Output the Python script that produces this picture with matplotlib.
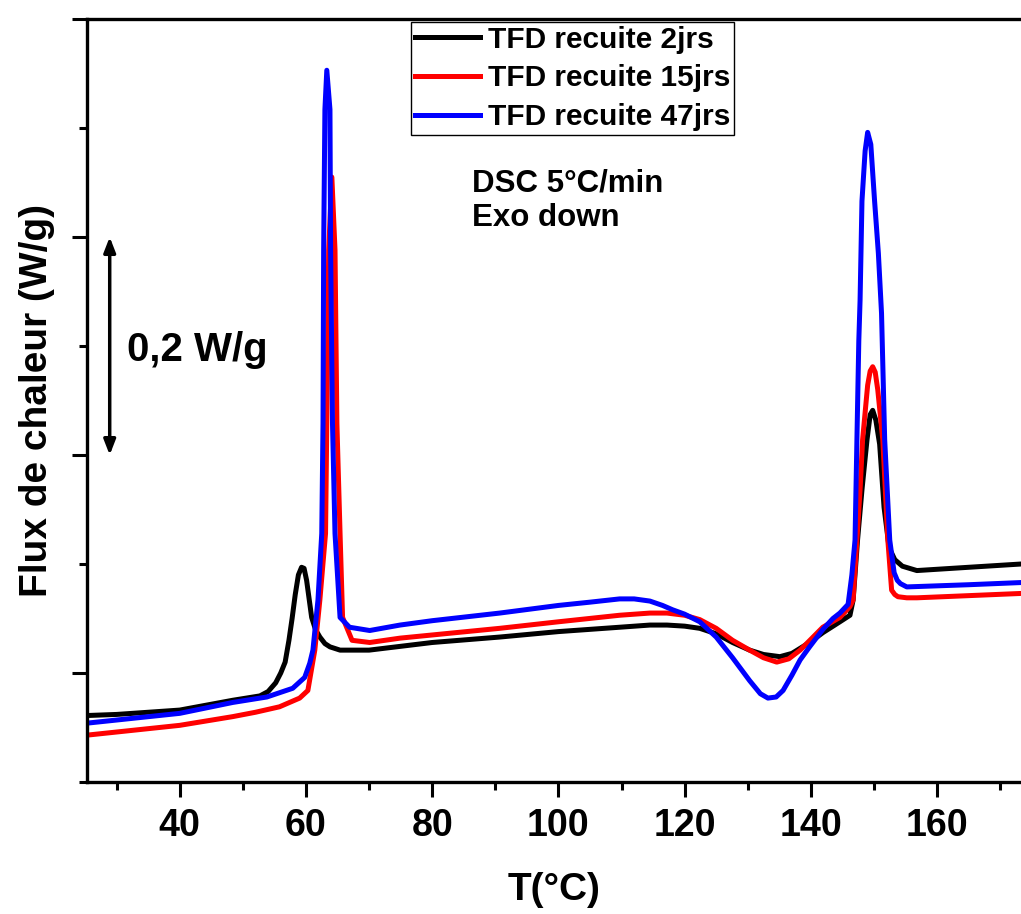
import matplotlib
matplotlib.use("Agg")
import matplotlib.pyplot as plt
from matplotlib.ticker import MultipleLocator, NullFormatter

plt.rcParams['font.family'] = ['Liberation Sans', 'DejaVu Sans']
plt.rcParams['font.weight'] = 'bold'

# temperature (°C) and heat flow (W/g, arbitrary offset)
t_2j = [25.3, 30, 40, 48.4, 52.7, 54.0, 55.2, 56.0, 56.7, 57.3, 57.8, 58.3, 58.8, 59.3,
        59.7, 60.1, 60.5, 60.9, 61.5, 62.2, 63.0, 63.8, 65.4, 70, 80, 90.7, 100, 109.7,
        114.5, 117.2, 120, 122.4, 125, 127.6, 130.3, 132.5, 135.1, 137, 139.8, 141.9,
        144.6, 146.2, 146.7, 147.4, 148.1, 148.9, 149.4, 149.8, 150.3, 150.9, 151.6, 152.4,
        153.3, 154.5, 156.8, 165, 173.3]
q_2j = [-0.039, -0.038, -0.034, -0.025, -0.021, -0.017, -0.009, 0.000, 0.010, 0.030, 0.050,
        0.072, 0.090, 0.097, 0.096, 0.085, 0.068, 0.051, 0.040, 0.033, 0.027, 0.024, 0.021,
        0.021, 0.028, 0.033, 0.038, 0.042, 0.044, 0.044, 0.043, 0.041, 0.036, 0.028, 0.021,
        0.017, 0.015, 0.018, 0.028, 0.037, 0.047, 0.053, 0.067, 0.122, 0.168, 0.214, 0.237,
        0.241, 0.232, 0.210, 0.152, 0.115, 0.104, 0.098, 0.094, 0.097, 0.100]

t_15j = [25.3, 40, 48.4, 52.0, 55.8, 59.0, 60.3, 61.4, 62.2, 63.1, 63.3, 63.6, 64.1, 64.6,
         64.9, 65.4, 65.8, 67.3, 70.1, 74.9, 90.7, 100, 109.7, 114.5, 117.2, 120, 122.4, 125,
         127.6, 130.3, 132.5, 134.6, 136.5, 138.3, 141.9, 144.6, 146.2, 146.7, 147.3, 147.8,
         148.2, 149.0, 149.4, 149.8, 150.2, 150.6, 151.4, 152.2, 152.8, 153.3, 153.8, 155.2,
         156.8, 173.3]
q_15j = [-0.057, -0.048, -0.040, -0.036, -0.031, -0.023, -0.016, 0.021, 0.067, 0.128, 0.229,
         0.388, 0.455, 0.388, 0.229, 0.128, 0.051, 0.030, 0.028, 0.032, 0.041, 0.047, 0.053,
         0.055, 0.055, 0.053, 0.049, 0.041, 0.030, 0.021, 0.014, 0.010, 0.013, 0.021, 0.042,
         0.051, 0.061, 0.067, 0.122, 0.168, 0.214, 0.264, 0.277, 0.281, 0.276, 0.260, 0.214,
         0.122, 0.076, 0.072, 0.070, 0.069, 0.069, 0.073]

t_47j = [25.3, 40, 48.4, 53.8, 57.9, 59.8, 60.6, 61.1, 61.9, 62.5, 62.7, 62.8, 63.0, 63.3,
         63.8, 63.9, 64.2, 64.6, 65.4, 66.9, 70.1, 74.9, 80, 90.7, 100, 105, 109.7, 112,
         114.5, 116.5, 118.1, 120, 122.4, 125, 127.6, 130.3, 132, 133.2, 134.5, 135.6, 137,
         138.3, 139.8, 141.9, 143.5, 144.6, 145.9, 146.5, 147.0, 147.3, 147.6, 147.8, 148.1,
         148.6, 149.0, 149.5, 150.1, 150.7, 151.2, 151.7, 152.5, 153.2, 153.7, 154.2, 155.2,
         165, 173.3]
q_47j = [-0.046, -0.037, -0.027, -0.022, -0.014, -0.004, 0.009, 0.021, 0.067, 0.128, 0.229,
         0.388, 0.517, 0.553, 0.517, 0.388, 0.229, 0.128, 0.051, 0.042, 0.039, 0.044, 0.048,
         0.055, 0.062, 0.065, 0.068, 0.068, 0.066, 0.062, 0.058, 0.054, 0.047, 0.033, 0.014,
         -0.007, -0.019, -0.023, -0.022, -0.016, -0.002, 0.012, 0.024, 0.040, 0.050, 0.055,
         0.063, 0.090, 0.122, 0.214, 0.305, 0.342, 0.433, 0.479, 0.496, 0.485, 0.433, 0.385,
         0.330, 0.214, 0.122, 0.092, 0.085, 0.082, 0.079, 0.081, 0.083]

labels = ["TFD recuite 2jrs", "TFD recuite 15jrs", "TFD recuite 47jrs"]
colors = ["black", "red", "blue"]

fig = plt.figure(figsize=(10.21, 9.14), dpi=100)
ax = fig.add_axes([0.0852, 0.1444, 0.9148, 0.8348])

for t, q, lab, c in zip([t_2j, t_15j, t_47j], [q_2j, q_15j, q_47j], labels, colors):
    ax.plot(t, q, color=c, lw=3.6, label=lab, solid_joinstyle='round')

ax.set_xlim(25.3, 173.3)
ax.set_ylim(-0.1, 0.6)

ax.xaxis.set_major_locator(MultipleLocator(20))
ax.xaxis.set_minor_locator(MultipleLocator(10))
ax.yaxis.set_major_locator(MultipleLocator(0.2))
ax.yaxis.set_minor_locator(MultipleLocator(0.1))
ax.yaxis.set_major_formatter(NullFormatter())

ax.tick_params(which='major', direction='out', length=11, width=2.2, labelsize=27, pad=8)
ax.tick_params(which='minor', direction='out', length=6, width=2.2)
for lbl in ax.get_xticklabels():
    lbl.set_fontweight('bold')

ax.spines['right'].set_visible(False)
for s in ['left', 'bottom', 'top']:
    ax.spines[s].set_linewidth(2.4)

ax.set_xlabel("T(°C)", fontsize=28, fontweight='bold', labelpad=20)
ax.set_ylabel("Flux de chaleur (W/g)", fontsize=28, fontweight='bold', labelpad=4)

# scale bar
ax.annotate("", xy=(28.9, 0.4), xytext=(28.9, 0.2),
            arrowprops=dict(arrowstyle='<|-|>,head_length=0.9,head_width=0.35',
                            lw=2.5, color='black', shrinkA=0, shrinkB=0))
ax.text(31.6, 0.296, "0,2 W/g", fontsize=29, fontweight='bold', va='center', ha='left')

ax.text(86.3, 0.433, "DSC 5°C/min\nExo down", fontsize=22.5, fontweight='bold',
        va='center', ha='left', linespacing=1.2)

leg = ax.legend(loc='upper left', bbox_to_anchor=(411 / 1021, 1 - 22 / 914),
                bbox_transform=fig.transFigure, fontsize=21.5, frameon=True,
                fancybox=False, edgecolor='black', framealpha=1, borderpad=0.12,
                handlelength=2.2, handletextpad=0.25, labelspacing=0.36, borderaxespad=0)
leg.get_frame().set_linewidth(1.0)
for txt in leg.get_texts():
    txt.set_fontweight('bold')

fig.savefig("out.png", dpi=100)
